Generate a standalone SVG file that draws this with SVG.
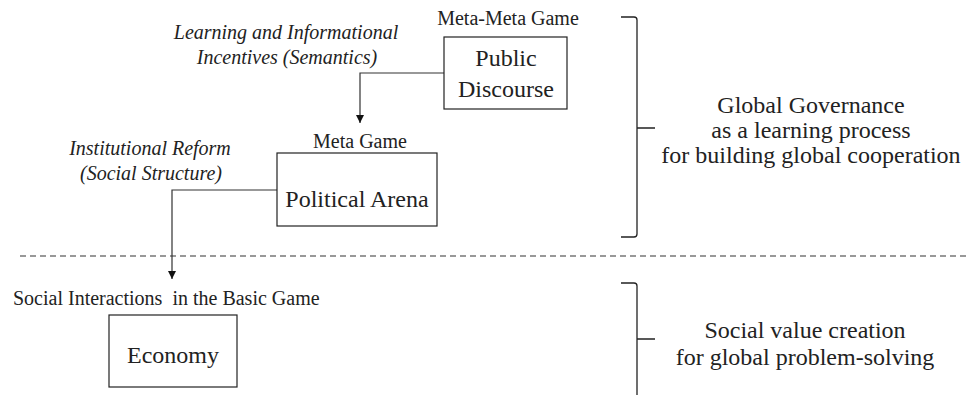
<svg xmlns="http://www.w3.org/2000/svg" width="971" height="395" viewBox="0 0 971 395">
  <style>
    .small { font-family: "Liberation Serif", "Times New Roman", serif; font-size: 20px; fill: #222; }
    .big { font-family: "Liberation Serif", "Times New Roman", serif; font-size: 24px; fill: #222; }
    .it { font-family: "Liberation Serif", "Times New Roman", serif; font-style: italic; font-size: 20px; fill: #222; }
    .box { fill: #fff; stroke: #222; stroke-width: 1.2; }
    .conn { fill: none; stroke: #333; stroke-width: 1.2; }
    .brace { fill: none; stroke: #222; stroke-width: 1.3; }
    .divider { stroke: #333; stroke-width: 1.2; stroke-dasharray: 6 4; }
  </style>
  <defs>
    <marker id="arrow" viewBox="0 0 8 8" refX="8" refY="4" markerWidth="8" markerHeight="8" markerUnits="userSpaceOnUse" orient="auto">
      <path d="M0,0 L8,4 L0,8 Z" fill="#111"/>
    </marker>
  </defs>

  <!-- divider between governance layer and basic game -->
  <line class="divider" x1="20" y1="256" x2="968" y2="256"/>

  <!-- connectors -->
  <g id="connectors">
    <path class="conn" d="M444,73 H360 V123" marker-end="url(#arrow)"/>
    <path class="conn" d="M277,190 H172 V279" marker-end="url(#arrow)"/>
  </g>

  <!-- connector labels -->
  <g id="label-semantics">
    <text class="it" x="286" y="39" text-anchor="middle">Learning and Informational</text>
    <text class="it" x="287" y="64" text-anchor="middle">Incentives (Semantics)</text>
  </g>
  <g id="label-reform">
    <text class="it" x="150" y="155" text-anchor="middle">Institutional Reform</text>
    <text class="it" x="151" y="180" text-anchor="middle">(Social Structure)</text>
  </g>

  <!-- nodes -->
  <g id="public-discourse">
    <text class="small" x="508" y="25" text-anchor="middle">Meta-Meta Game</text>
    <rect class="box" x="444" y="37" width="123" height="72"/>
    <text class="big" x="506" y="66" text-anchor="middle">Public</text>
    <text class="big" x="506" y="97" text-anchor="middle">Discourse</text>
  </g>

  <g id="political-arena">
    <text class="small" x="360" y="148" text-anchor="middle">Meta Game</text>
    <rect class="box" x="277" y="153" width="160" height="73"/>
    <text class="big" x="357" y="207" text-anchor="middle">Political Arena</text>
  </g>

  <g id="economy">
    <text class="small" x="13" y="305" xml:space="preserve">Social Interactions  in the Basic Game</text>
    <rect class="box" x="109" y="315" width="128" height="72"/>
    <text class="big" x="173" y="363" text-anchor="middle">Economy</text>
  </g>

  <!-- right-hand brackets and their captions -->
  <g id="governance-bracket">
    <path class="brace" d="M621,17 H634 Q637,17 637,20 V234 Q637,237 634,237 H621 M637,128 H655"/>
    <text class="big" x="811" y="113" text-anchor="middle">Global Governance</text>
    <text class="big" x="811" y="138" text-anchor="middle">as a learning process</text>
    <text class="big" x="811" y="163" text-anchor="middle">for building global cooperation</text>
  </g>

  <g id="value-bracket">
    <path class="brace" d="M621,283 H634 Q637,283 637,286 V395 M637,339 H655"/>
    <text class="big" x="805" y="338" text-anchor="middle">Social value creation</text>
    <text class="big" x="805" y="365" text-anchor="middle">for global problem-solving</text>
  </g>
</svg>
